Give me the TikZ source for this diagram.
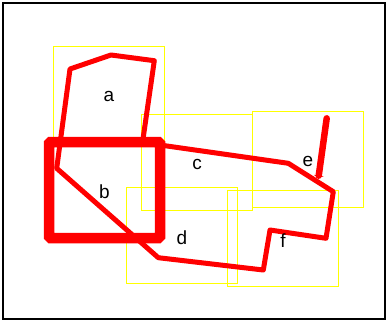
\documentclass[tikz,border=0pt]{standalone}
\usepackage{fontspec}
\setmainfont{Liberation Sans}
\usetikzlibrary{arrows.meta}
\definecolor{edge}{HTML}{FF0000}
\definecolor{hilite}{HTML}{FFFF00}
\tikzset{
  region/.style={draw=hilite,line width=1.4pt,minimum width=111pt,minimum height=96pt,inner sep=0},
  outline/.style={edge,line width=5pt,line join=round},
  tag/.style={inner sep=0,font=\fontsize{19}{21}\selectfont},
}
\begin{document}
\begin{tikzpicture}[x=1pt,y=-1pt]
\useasboundingbox (0,0) rectangle (388,321);
\draw[black,line width=2pt] (3,3) rectangle (385,319);
% yellow label boxes
\node[region] (a) at (109,94.5) {};
\node[region] (c) at (197,162.5) {};
\node[region] (e) at (308,159.5) {};
\node[region] (d) at (182,235.5) {};
\node[region] (f) at (283,238.5) {};
% outline
\draw[outline] (154.3,60.7) -- (142.5,142.5) -- (288.3,163.3) -- (333.3,191.7) -- (326,238.3)
  -- (270,230) -- (263.3,270) -- (158.3,257.7) -- (56.7,168.3) -- (70,69) -- (111,55) -- cycle;
\node[region,draw=edge,line width=10.5pt,rounded corners=1.5pt] (b) at (104.5,190) {};
% arrow in e
\coordinate (e top) at (326.7,118.3);
\coordinate (e end) at (318.4,178);
\draw[edge,line width=6.5pt,line cap=round,-{Triangle[width=10pt,length=2.5pt,line cap=butt]}] (e top) -- (e end);
% labels
\foreach \n in {a,b,c,d,e,f}
  \node[tag] (\n-tag) at ([yshift=-2pt]\n.center) {\n};
\end{tikzpicture}
\end{document}
